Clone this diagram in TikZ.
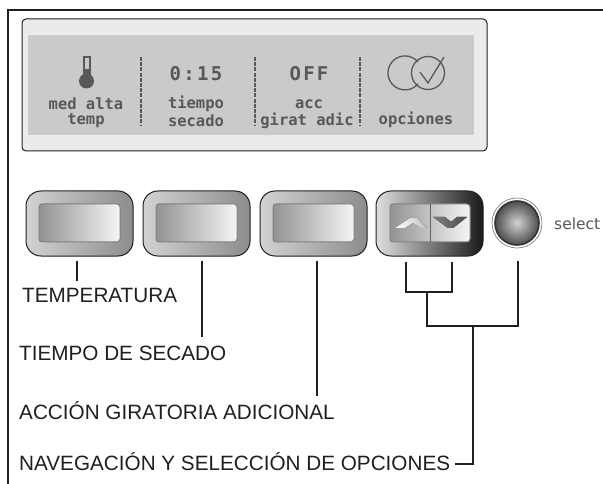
\documentclass[tikz,border=0pt]{standalone}
\usepackage{fontspec}
\setmainfont{Liberation Sans}
\newfontfamily\lcdfont{DejaVu Sans Mono}[BoldFont={DejaVu Sans Mono Bold}]
\newfontfamily\selfont{DejaVu Sans}
\definecolor{lcdgray}{HTML}{C9CACC}
\definecolor{lcdink}{HTML}{56585A}
\definecolor{panelgray}{HTML}{EBEBEB}
\definecolor{linkblack}{HTML}{231F20}
\tikzset{
  link/.style={draw=linkblack,line width=1.9pt},
  lcdtext/.style={text=lcdink,align=center,font=\lcdfont\bfseries\fontsize{15.5}{17}\selectfont,inner sep=0pt},
  lcdvalue/.style={lcdtext,font=\lcdfont\bfseries\fontsize{19}{21}\selectfont\addfontfeature{LetterSpace=12}},
  caption/.style={anchor=west,text=linkblack,font=\fontsize{20.7}{22}\selectfont,inner sep=0pt},
  sep/.style={draw=lcdink,line width=1.3pt,dash pattern=on 4pt off 1.2pt},
  icon/.style={draw=lcdink,line width=1.3pt},
  keyrim/.style={draw=linkblack,line width=1pt,rounded corners=15pt},
  keyface/.style={draw=gray,line width=1pt,rounded corners=3pt,left color=gray!85,middle color=gray!45,right color=white!92!gray},
}
\begin{document}
\begin{tikzpicture}[x=1pt,y=-1pt]
  \useasboundingbox (0,0) rectangle (603,484);
  \fill[white] (0,0) rectangle (603,484);
  % outer frame
  \draw[linkblack,line width=2.4pt] (8,484) -- (8,10) -- (603,10);

  % display
  \draw[linkblack,fill=panelgray,line width=1pt,rounded corners=4pt] (22,19) rectangle (487,151);
  \fill[lcdgray] (28,35) rectangle (474,135);
  \draw[sep] (141,57) -- (141,126);
  \draw[sep] (255,57) -- (255,126);
  \draw[sep] (360,57) -- (360,126);

  % thermometer
  \fill[lcdink] (86.5,81) circle[radius=7.5];
  \fill[lcdink] (82.5,56) rectangle (90.5,77);
  \fill[lcdgray] (84.5,58) rectangle (88.5,69);

  % check icon
  \draw[icon] (418,62) arc[start angle=-40,end angle=-320,radius=17];
  \draw[icon] (428,73) circle[radius=16.5];
  \draw[icon] (420,72) -- (428,83) -- (444,57);

  \node[lcdtext] (tempa) at (86,104) {med alta};
  \node[lcdtext] (tempb) at (86,121) {temp};
  \node[lcdtext] (timea) at (196,104) {tiempo};
  \node[lcdtext] (timeb) at (196,121) {secado};
  \node[lcdvalue] (clock) at (196,74) {0:15};
  \node[lcdvalue] (offv) at (309,74) {OFF};
  \node[lcdtext] (acca) at (309,104) {acc};
  \node[lcdtext] (accb) at (307,121) {girat adic};
  \node[lcdtext] (opc) at (416,120) {opciones};

  % buttons
  \foreach \bx in {26,143,260}{
    \draw[keyrim,left color=gray!35,middle color=white,right color=black!45]
      (\bx,191) rectangle ++(107,65);
    \draw[keyface] (\bx+13,204) rectangle ++(81,38);
  }
  \draw[keyrim,left color=gray!25,middle color=gray,right color=black!90]
    (376,191) rectangle (483,256);
  \draw[keyface] (390,204) rectangle (470,242);
  \draw[linkblack!70,line width=1pt] (430,204) -- (430,242);
  \fill[left color=white,right color=gray!50] (395,228) -- (410,218) -- (417,218) -- (427,228) -- (420,228) -- (413,223) -- (405,228) -- cycle;
  \fill[left color=gray,right color=black!70] (433,217) -- (445,217) -- (451,222) -- (457,217) -- (467,217) -- (453,228) -- (448,228) -- cycle;

  % select knob
  \node[draw=gray,line width=.7pt,circle,minimum size=50pt,inner sep=0pt,fill=white] (knobring) at (517,223) {};
  \node[draw=black!80,line width=1.6pt,circle,minimum size=44pt,inner sep=0pt,inner color=gray!35,outer color=black!70] (knob) at (517,223) {};
  \node[anchor=west,text=lcdink,font=\selfont\fontsize{15.5}{17}\selectfont,inner sep=0pt] (sel) at (554,224) {select};

  % captions
  \node[caption] (temp) at (22,295) {TEMPERATURA};
  \node[caption] (dry) at (19,353) {TIEMPO DE SECADO};
  \node[caption] (spin) at (19,411) {ACCIÓN GIRATORIA ADICIONAL};
  \node[caption] (nav) at (19,462) {NAVEGACIÓN Y SELECCIÓN DE OPCIONES};

  % leaders
  \coordinate (tempt) at (77,261);
  \coordinate (tempe) at (77,281);
  \coordinate (dryt) at (202,261);
  \coordinate (drye) at (202,337);
  \coordinate (spint) at (317,261);
  \coordinate (spine) at (317,396);
  \coordinate (up) at (406,262);
  \coordinate (down) at (452,262);
  \coordinate (upj) at (406,292);
  \coordinate (downj) at (452,292);
  \coordinate (navj) at (427,292);
  \coordinate (navk) at (427,326);
  \coordinate (knobj) at (518,326);
  \coordinate (knobt) at (518,261);
  \coordinate (navm) at (473,326);
  \coordinate (navc) at (473,464);
  \coordinate (nave) at (455,464);
  \draw[link] (tempt) -- (tempe);
  \draw[link] (dryt) -- (drye);
  \draw[link] (spint) -- (spine);
  \draw[link] (up) -- (upj) -- (downj) -- (down);
  \draw[link] (navj) -- (navk) -- (knobj) -- (knobt);
  \draw[link] (navm) -- (navc) -- (nave);
\end{tikzpicture}
\end{document}
